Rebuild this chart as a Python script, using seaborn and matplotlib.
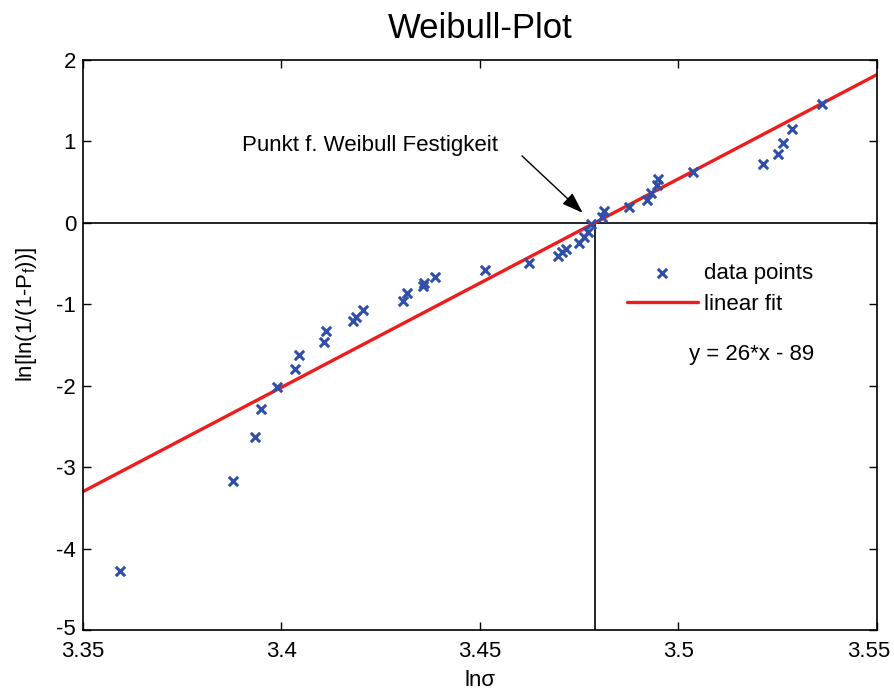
import numpy as np
import pandas as pd
import matplotlib
matplotlib.use("Agg")
import matplotlib.pyplot as plt
import matplotlib.transforms as mtransforms
import seaborn as sns

# data
ln_sigma = [3.3593, 3.3878, 3.3933, 3.3948, 3.3989, 3.4034, 3.4044, 3.4107, 3.4112,
            3.4180, 3.4188, 3.4205, 3.4306, 3.4316, 3.4356, 3.4360, 3.4387, 3.4513,
            3.4623, 3.4697, 3.4708, 3.4717, 3.4749, 3.4762, 3.4772, 3.4780, 3.4808,
            3.4812, 3.4875, 3.4921, 3.4931, 3.4946, 3.4948, 3.5037, 3.5213, 3.5251,
            3.5263, 3.5286, 3.5361]
ln_ln = [-4.275, -3.17, -2.63, -2.285, -2.015, -1.79, -1.62, -1.46, -1.33,
         -1.20, -1.16, -1.07, -0.96, -0.86, -0.77, -0.74, -0.66, -0.58,
         -0.49, -0.41, -0.36, -0.32, -0.25, -0.17, -0.11, -0.01, 0.07,
         0.14, 0.20, 0.28, 0.37, 0.47, 0.54, 0.62, 0.72, 0.84,
         0.98, 1.15, 1.46]
fit_slope = 25.6
fit_intercept = -89.06
x_limits = [3.35, 3.55]
y_limits = [-5, 2]
x_ticks = [3.35, 3.4, 3.45, 3.5, 3.55]
x_tick_labels = ["3.35", "3.4", "3.45", "3.5", "3.55"]
y_ticks = [-5, -4, -3, -2, -1, 0, 1, 2]

sns.set_style("ticks")
plt.rcParams['font.family'] = ['Liberation Sans', 'DejaVu Sans']
plt.rcParams['mathtext.fontset'] = 'custom'
plt.rcParams['mathtext.rm'] = 'Liberation Sans'
plt.rcParams['mathtext.it'] = 'Liberation Sans'
plt.rcParams['axes.unicode_minus'] = False
for k in ['text.color', 'axes.labelcolor', 'xtick.color', 'ytick.color', 'axes.edgecolor']:
    plt.rcParams[k] = 'black'

FS = 16

fig = plt.figure(figsize=(8.94, 6.93), dpi=100)
ax = fig.add_axes([0.0928, 0.0909, 0.888, 0.8225])

df = pd.DataFrame({"x": ln_sigma, "y": ln_ln})
fit_x = np.array(x_limits)
fit_df = pd.DataFrame({"x": fit_x, "y": fit_slope * fit_x + fit_intercept})

x0 = -fit_intercept / fit_slope
ax.axhline(0, color='black', lw=1.2, zorder=1)
ax.plot([x0, x0], [y_limits[0], 0], color='black', lw=1.2, zorder=1)

sns.scatterplot(data=df, x="x", y="y", marker='x', color='#2f4fa8', s=45,
                linewidth=2.2, ax=ax, label='data points', zorder=3)
sns.lineplot(data=fit_df, x="x", y="y", color='#ee1c1c', lw=2.4, ax=ax,
             label='linear fit', zorder=2)

ax.set_xlim(x_limits)
ax.set_ylim(y_limits)
ax.set_xticks(x_ticks)
ax.set_xticklabels(x_tick_labels)
ax.set_yticks(y_ticks)
ax.tick_params(direction='in', top=True, right=True, labelsize=FS, length=6, width=1)
ax.tick_params(axis='x', pad=8)
ax.tick_params(axis='y', pad=5)
for s in ax.spines.values():
    s.set_linewidth(1.2)
    s.set_color('black')
# keep the last x tick label inside the figure, as in the reference
last = ax.get_xticklabels()[-1]
last.set_transform(last.get_transform() +
                   mtransforms.ScaledTranslation(-8 / 100, 0, fig.dpi_scale_trans))
# shift the lowest y tick label slightly up so it clears the x labels
first = ax.get_yticklabels()[0]
first.set_transform(first.get_transform() +
                    mtransforms.ScaledTranslation(0, 3 / 100, fig.dpi_scale_trans))

ax.set_xlabel('ln\u03c3', fontsize=FS, labelpad=6)
ax.set_ylabel(r'ln[ln(1/(1-P$_{\mathregular{f}}$))]', fontsize=FS)
ax.yaxis.set_label_coords(-0.056, 0.553)
ax.set_title('Weibull-Plot', fontsize=25, pad=16)

ax.text(3.4223, 0.95, 'Punkt f. Weibull Festigkeit', fontsize=FS, ha='center', va='center')
ax.annotate('', xy=(3.4759, 0.123), xytext=(3.4606, 0.823),
            arrowprops=dict(arrowstyle='-|>,head_length=1.3,head_width=0.45',
                            color='black', lw=1, shrinkA=0, shrinkB=0))

leg = ax.legend(loc='upper left', bbox_to_anchor=(0.685, 0.644), frameon=False,
                fontsize=FS, handlelength=3.2, labelspacing=0.45, handletextpad=0.27,
                borderaxespad=0, borderpad=0)
ax.text(0.8426, 0.4825, 'y = 26*x - 89', transform=ax.transAxes, fontsize=FS,
        ha='center', va='center')

fig.savefig('out.png', dpi=100, facecolor='white')
